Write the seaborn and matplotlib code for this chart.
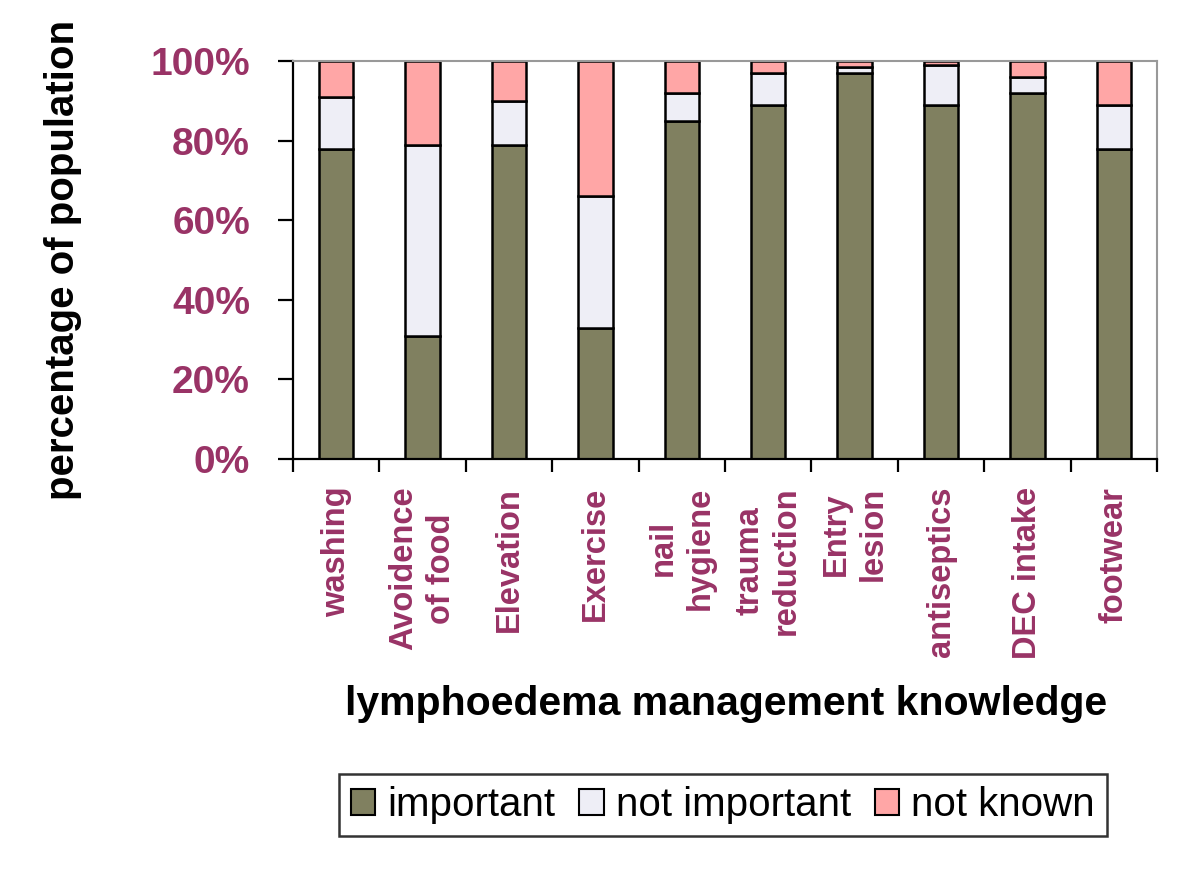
import seaborn as sns
import matplotlib.pyplot as plt
from matplotlib.ticker import FixedLocator, PercentFormatter
from matplotlib.patches import Patch

# knowledge items (x axis) and answer shares in percent
categories = ["washing", "Avoidence\nof food", "Elevation", "Exercise", "nail\nhygiene",
              "trauma\nreduction", "Entry\nlesion", "antiseptics", "DEC intake", "footwear"]
important = [78, 31, 79, 33, 85, 89, 97, 89, 92, 78]
not_important = [13, 48, 11, 33, 7, 8, 1.5, 10, 4, 11]
not_known = [9, 21, 10, 34, 8, 3, 1.5, 1, 4, 11]

series_names = ["important", "not important", "not known"]
series_colors = ["#808060", "#EEEEF6", "#FFA6A6"]
label_color = "#993366"

sns.set_style("white")
plt.rcParams["font.family"] = ["Liberation Sans", "DejaVu Sans"]
plt.rcParams["text.color"] = "black"

fig = plt.figure(figsize=(11.99, 8.76), dpi=100)
ax = fig.add_axes([293 / 1199, 1 - 459 / 876, 864 / 1199, 398 / 876])

bottom = [0] * len(categories)
for vals, color in zip([important, not_important, not_known], series_colors):
    sns.barplot(x=categories, y=vals, bottom=bottom, color=color, width=0.4,
                edgecolor="black", linewidth=1.8, saturation=1, ax=ax)
    bottom = [b + v for b, v in zip(bottom, vals)]

ax.set_xlim(-0.5, len(categories) - 0.5)
ax.set_ylim(0, 100)
ax.yaxis.set_major_locator(FixedLocator([0, 20, 40, 60, 80, 100]))
ax.yaxis.set_major_formatter(PercentFormatter(decimals=0))

for side in ["top", "right"]:
    ax.spines[side].set_color("#999999")
    ax.spines[side].set_linewidth(1.5)
for side in ["left", "bottom"]:
    ax.spines[side].set_color("black")
    ax.spines[side].set_linewidth(1.6)

ax.tick_params(axis="y", direction="out", length=11, width=1.6, color="black",
               left=True, pad=20, labelsize=28, labelcolor=label_color)
for lbl in ax.get_yticklabels():
    lbl.set_fontweight("bold")

# ticks between categories, labels under bar centres
ax.xaxis.set_minor_locator(FixedLocator([i - 0.5 for i in range(len(categories) + 1)]))
ax.tick_params(axis="x", which="minor", direction="out", length=9, width=1.6,
               color="black", bottom=True)
ax.tick_params(axis="x", which="major", length=0, pad=20)
ax.set_xticks(range(len(categories)))
ax.set_xticklabels(categories, rotation=90, ha="center", va="top",
                   multialignment="center", fontsize=23.5, fontweight="bold",
                   color=label_color, linespacing=1.25)
ax.set_xlabel("")
ax.set_ylabel("")

fig.text(63 / 1199, 1 - 260 / 876, "percentage of population", rotation=90,
         ha="center", va="center", fontsize=29, fontweight="bold")
fig.text(726 / 1199, 1 - 704 / 876, "lymphoedema management knowledge",
         ha="center", va="center", fontsize=29.5, fontweight="bold")

handles = [Patch(facecolor=c, edgecolor="black", linewidth=1.5) for c in series_colors]
leg = fig.legend(handles, series_names, loc="center", ncol=3,
                 bbox_to_anchor=(723 / 1199, 1 - 805 / 876), fontsize=29,
                 frameon=True, fancybox=False, edgecolor="black",
                 handlelength=0.6, handleheight=0.6, handletextpad=0.3,
                 columnspacing=0.6, borderpad=0.3)
leg.get_frame().set_linewidth(1.8)

fig.savefig("out.png", dpi=100)
